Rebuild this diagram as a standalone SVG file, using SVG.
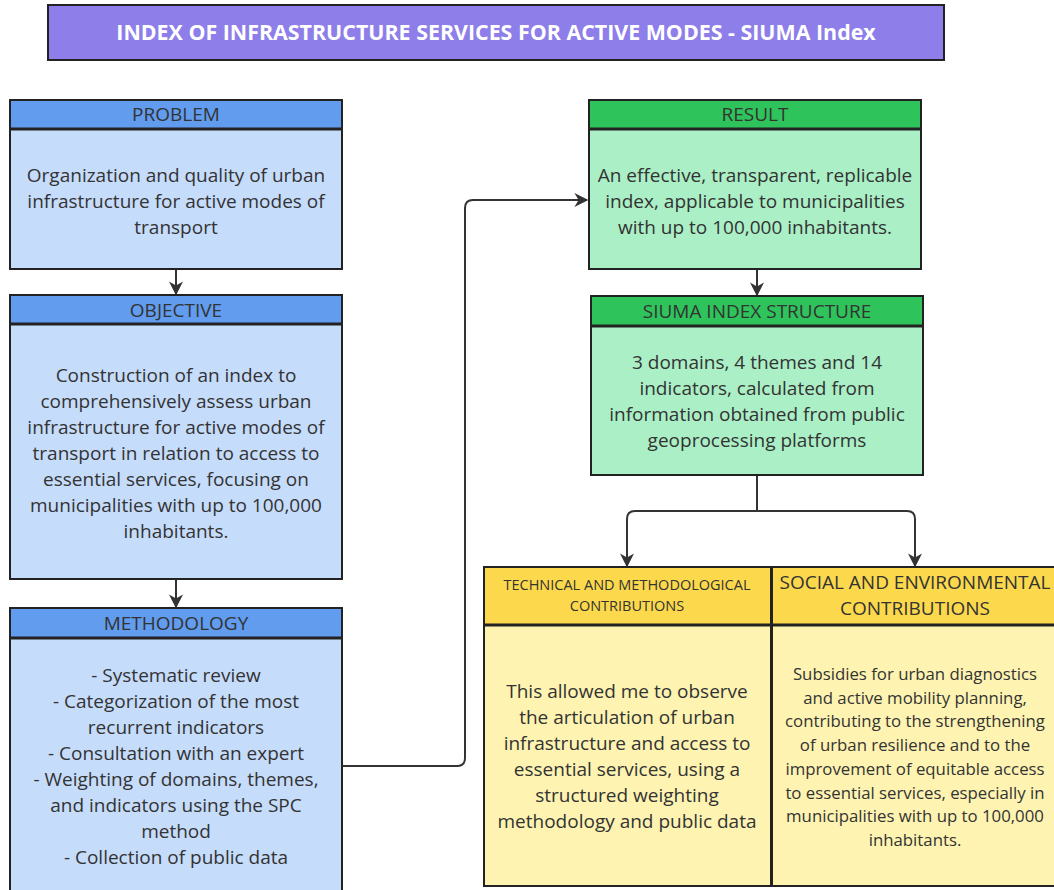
<svg xmlns="http://www.w3.org/2000/svg" width="1054" height="890" viewBox="0 0 1054 890">
<style>
.t{font-family:"Open Sans","Noto Sans",sans-serif;fill:#333;text-anchor:middle}
.b{font-size:19px}
.h{font-size:19px}
.s{font-size:16.8px}
.box{stroke:#222;stroke-width:2}
.sep{stroke:#222;stroke-width:3}
.blueH{fill:#619cef}.blueB{fill:#c6dcfb}
.greenH{fill:#2fc35b}.greenB{fill:#abefc6}
.yelH{fill:#fcd94c}.yelB{fill:#fef3b1}
.con{fill:none;stroke:#333;stroke-width:2}
</style>
<defs>
<marker id="ahL" viewBox="0 0 10 10" refX="9" refY="5" markerWidth="14" markerHeight="14" markerUnits="userSpaceOnUse" orient="auto"><path d="M0,0 L10,5 L0,10 L3,5 Z" fill="#333"/></marker>
</defs>
<rect width="1054" height="890" fill="#fff"/>
<g id="title">
<rect x="48" y="5" width="896" height="55" fill="#8d7ee9" class="box"/>
<text x="496" y="40" class="t" style="font-size:21.4px;font-weight:bold;fill:#fff">INDEX OF INFRASTRUCTURE SERVICES FOR ACTIVE MODES - SIUMA Index</text>
</g>
<g id="connectors">
<line x1="176" y1="269" x2="176" y2="294" class="con" marker-end="url(#ahL)"/>
<line x1="176" y1="579" x2="176" y2="607" class="con" marker-end="url(#ahL)"/>
<line x1="757" y1="269" x2="757" y2="295" class="con" marker-end="url(#ahL)"/>
<path d="M342,766 H457 Q465,766 465,758 V208 Q465,200 473,200 H587" class="con" marker-end="url(#ahL)"/>
<path d="M757,475 V511" class="con"/>
<path d="M757,511 H635 Q627,511 627,519 V566" class="con" marker-end="url(#ahL)"/>
<path d="M757,511 H907 Q915,511 915,519 V566" class="con" marker-end="url(#ahL)"/>
</g>
<g id="problem">
<rect x="10" y="129" width="332" height="140" class="box blueB"/>
<rect x="10" y="100" width="332" height="29" class="box blueH"/>
<line x1="10" y1="129" x2="342" y2="129" class="sep"/>
<text x="176" y="121" class="t h">PROBLEM</text>
<text class="t b"><tspan x="176" y="182">Organization and quality of urban</tspan><tspan x="176" y="208">infrastructure for active modes of</tspan><tspan x="176" y="234">transport</tspan></text>
</g>
<g id="objective">
<rect x="10" y="324" width="332" height="255" class="box blueB"/>
<rect x="10" y="295" width="332" height="29" class="box blueH"/>
<line x1="10" y1="324" x2="342" y2="324" class="sep"/>
<text x="176" y="317" class="t h">OBJECTIVE</text>
<text class="t b"><tspan x="176" y="382">Construction of an index to</tspan><tspan x="176" y="408">comprehensively assess urban</tspan><tspan x="176" y="434">infrastructure for active modes of</tspan><tspan x="176" y="460">transport in relation to access to</tspan><tspan x="176" y="486">essential services, focusing on</tspan><tspan x="176" y="512">municipalities with up to 100,000</tspan><tspan x="176" y="538">inhabitants.</tspan></text>
</g>
<g id="methodology">
<rect x="10" y="638" width="332" height="262" class="box blueB"/>
<rect x="10" y="608" width="332" height="30" class="box blueH"/>
<line x1="10" y1="638" x2="342" y2="638" class="sep"/>
<text x="176" y="630" class="t h">METHODOLOGY</text>
<text class="t b"><tspan x="176" y="682">- Systematic review</tspan><tspan x="176" y="708">- Categorization of the most</tspan><tspan x="176" y="734">recurrent indicators</tspan><tspan x="176" y="760">- Consultation with an expert</tspan><tspan x="176" y="786">- Weighting of domains, themes,</tspan><tspan x="176" y="812">and indicators using the SPC</tspan><tspan x="176" y="838">method</tspan><tspan x="176" y="864">- Collection of public data</tspan></text>
</g>
<g id="result">
<rect x="589" y="129" width="332" height="140" class="box greenB"/>
<rect x="589" y="100" width="332" height="29" class="box greenH"/>
<line x1="589" y1="129" x2="921" y2="129" class="sep"/>
<text x="755" y="121" class="t h">RESULT</text>
<text class="t b"><tspan x="755" y="182">An effective, transparent, replicable</tspan><tspan x="755" y="208">index, applicable to municipalities</tspan><tspan x="755" y="234">with up to 100,000 inhabitants.</tspan></text>
</g>
<g id="structure">
<rect x="591" y="326" width="332" height="149" class="box greenB"/>
<rect x="591" y="296" width="332" height="30" class="box greenH"/>
<line x1="591" y1="326" x2="923" y2="326" class="sep"/>
<text x="757" y="318" class="t h">SIUMA INDEX STRUCTURE</text>
<text class="t b"><tspan x="757" y="369">3 domains, 4 themes and 14</tspan><tspan x="757" y="395">indicators, calculated from</tspan><tspan x="757" y="421">information obtained from public</tspan><tspan x="757" y="447">geoprocessing platforms</tspan></text>
</g>
<g id="technical">
<rect x="484" y="625" width="287" height="261" class="box yelB"/>
<rect x="484" y="567" width="287" height="58" class="box yelH"/>
<line x1="484" y1="625" x2="771" y2="625" class="sep"/>
<text class="t" style="font-size:14.5px"><tspan x="627" y="590">TECHNICAL AND METHODOLOGICAL</tspan><tspan x="627" y="611">CONTRIBUTIONS</tspan></text>
<text class="t b"><tspan x="627" y="698">This allowed me to observe</tspan><tspan x="627" y="724">the articulation of urban</tspan><tspan x="627" y="750">infrastructure and access to</tspan><tspan x="627" y="776">essential services, using a</tspan><tspan x="627" y="802">structured weighting</tspan><tspan x="627" y="828">methodology and public data</tspan></text>
</g>
<g id="social">
<rect x="772" y="625" width="290" height="261" class="box yelB"/>
<rect x="772" y="567" width="290" height="58" class="box yelH"/>
<line x1="772" y1="625" x2="1054" y2="625" class="sep"/>
<text class="t h"><tspan x="915" y="589">SOCIAL AND ENVIRONMENTAL</tspan><tspan x="915" y="615">CONTRIBUTIONS</tspan></text>
<text class="t s"><tspan x="915" y="680">Subsidies for urban diagnostics</tspan><tspan x="915" y="704">and active mobility planning,</tspan><tspan x="915" y="727">contributing to the strengthening</tspan><tspan x="915" y="751">of urban resilience and to the</tspan><tspan x="915" y="775">improvement of equitable access</tspan><tspan x="915" y="799">to essential services, especially in</tspan><tspan x="915" y="822">municipalities with up to 100,000</tspan><tspan x="915" y="846">inhabitants.</tspan></text>
</g>
</svg>
